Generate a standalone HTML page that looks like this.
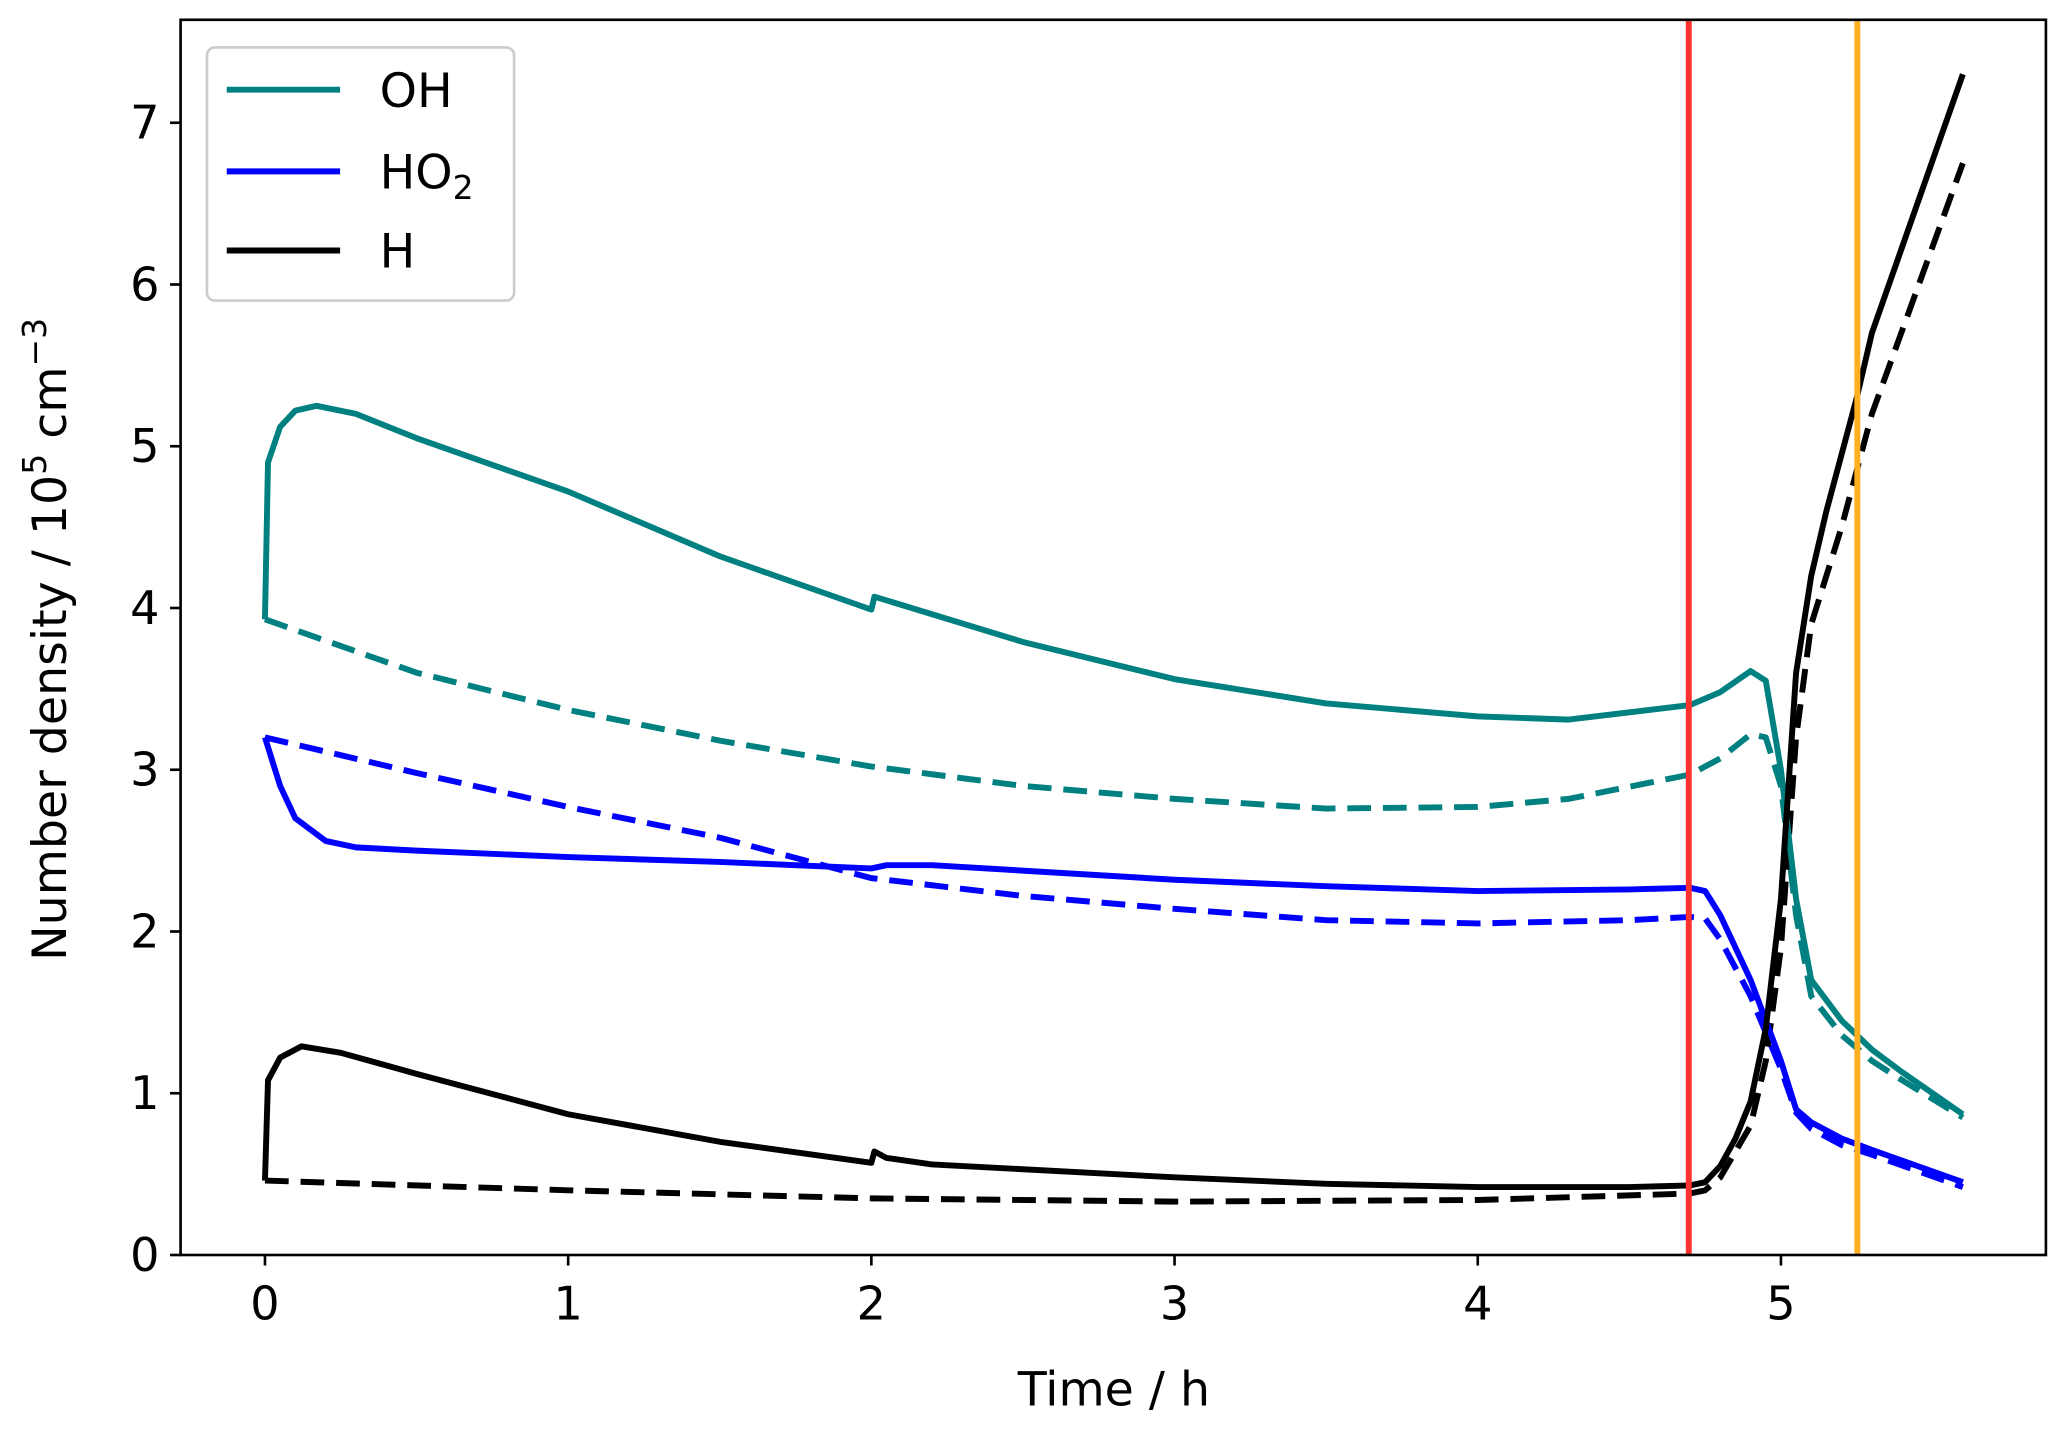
<!DOCTYPE html>
<html><head><meta charset="utf-8"><style>
html,body{margin:0;padding:0;background:#fff}
svg{display:block;font-family:"DejaVu Sans","Liberation Sans",sans-serif}
</style></head><body>
<svg id="chart" width="2067" height="1431" viewBox="0 0 1568 1085.5" xmlns="http://www.w3.org/2000/svg">
<rect x="0" y="0" width="1568" height="1086" fill="#fff"/>
<g id="plot"></g>
<g id="axes"></g>
<text x="845" y="1066" font-size="36" text-anchor="middle">Time / h</text>
<text transform="translate(50,485) rotate(-90)" font-size="36" text-anchor="middle">Number density / 10<tspan font-size="25" dy="-15">5</tspan><tspan dy="15"> cm</tspan><tspan font-size="25" dy="-15">−3</tspan></text>
<g>
<rect x="157" y="36" width="233" height="192" rx="6" fill="#fff" stroke="#ccc" stroke-width="2"/>
<line x1="172" y1="68" x2="258" y2="68" stroke="#008080" stroke-width="4.5"/>
<text x="288" y="81" font-size="36">OH</text>
<line x1="172" y1="130" x2="258" y2="130" stroke="#0000ff" stroke-width="4.5"/>
<text x="288" y="143" font-size="36">HO<tspan font-size="25" dy="8">2</tspan></text>
<line x1="172" y1="190" x2="258" y2="190" stroke="#000" stroke-width="4.5"/>
<text x="288" y="203" font-size="36">H</text>
</g>
</svg>
<script>
const xTicks=[0,1,2,3,4,5];
const yTicks=[0,1,2,3,4,5,6,7];
const redLineT=4.696;
const orangeLineT=5.252;
const ohSolidT=[0,0.01,0.05,0.1,0.17,0.3,0.5,1,1.5,2,2.01,2.5,3,3.5,4,4.3,4.7,4.8,4.9,4.95,5.0,5.05,5.1,5.2,5.3,5.4,5.6];
const ohSolidV=[3.93,4.9,5.12,5.22,5.25,5.2,5.05,4.72,4.32,3.99,4.07,3.79,3.56,3.41,3.33,3.31,3.40,3.48,3.61,3.55,3.0,2.2,1.7,1.45,1.27,1.13,0.87];
const ohDashT=[0,0.5,1,1.5,2,2.5,3,3.5,4,4.3,4.7,4.8,4.9,4.95,5.0,5.05,5.1,5.2,5.3,5.4,5.6];
const ohDashV=[3.93,3.6,3.37,3.18,3.02,2.9,2.82,2.76,2.77,2.82,2.97,3.07,3.22,3.2,2.9,2.1,1.6,1.36,1.2,1.08,0.85];
const ho2SolidT=[0,0.05,0.1,0.2,0.3,0.5,1,1.5,2,2.05,2.2,3,3.5,4,4.5,4.7,4.75,4.8,4.9,5.0,5.05,5.1,5.2,5.3,5.6];
const ho2SolidV=[3.2,2.9,2.7,2.56,2.52,2.5,2.46,2.43,2.39,2.41,2.41,2.32,2.28,2.25,2.26,2.27,2.25,2.1,1.7,1.2,0.9,0.82,0.72,0.65,0.45];
const ho2DashT=[0,0.5,1,1.5,2,2.5,3,3.5,4,4.5,4.7,4.75,4.8,4.9,5.0,5.05,5.1,5.2,5.3,5.6];
const ho2DashV=[3.2,2.98,2.77,2.58,2.33,2.22,2.14,2.07,2.05,2.07,2.09,2.08,1.95,1.6,1.15,0.88,0.78,0.68,0.62,0.42];
const hSolidT=[0,0.01,0.05,0.12,0.25,0.5,1,1.5,2,2.01,2.05,2.2,3,3.5,4,4.5,4.7,4.75,4.8,4.85,4.9,4.95,5.0,5.05,5.1,5.15,5.2,5.25,5.3,5.6];
const hSolidV=[0.46,1.08,1.22,1.29,1.25,1.12,0.87,0.7,0.57,0.64,0.6,0.56,0.48,0.44,0.42,0.42,0.43,0.45,0.55,0.72,0.95,1.4,2.2,3.6,4.2,4.6,4.95,5.3,5.7,7.3];
const hDashT=[0,1,2,3,4,4.7,4.75,4.8,4.9,4.95,5.0,5.05,5.1,5.2,5.25,5.3,5.6];
const hDashV=[0.46,0.4,0.35,0.33,0.34,0.38,0.4,0.48,0.8,1.2,1.9,3.2,3.9,4.5,4.85,5.2,6.75];

const NS='http://www.w3.org/2000/svg';
const L=137,R=1552,T=15,B=952;
const sx=t=>201+t*230;
const sy=v=>952-v*122.7;
const plot=document.getElementById('plot');
const axes=document.getElementById('axes');
function mk(tag,attrs,parent){const e=document.createElementNS(NS,tag);for(const k in attrs)e.setAttribute(k,attrs[k]);parent.appendChild(e);return e;}
function series(ts,vs,color,dash,name){
  const d=ts.map((t,i)=>(i?'L':'M')+sx(t).toFixed(2)+','+sy(vs[i]).toFixed(2)).join(' ');
  const p=mk('path',{d:d,fill:'none',stroke:color,'stroke-width':4.5,'stroke-linejoin':'round'},plot);
  if(dash)p.setAttribute('stroke-dasharray','18,9');
  
  
}
series(ohDashT,ohDashV,'#008080',true,'oh-dashed-line');
series(ho2DashT,ho2DashV,'#0000ff',true,'ho2-dashed-line');
series(hDashT,hDashV,'#000',true,'h-dashed-line');
series(ohSolidT,ohSolidV,'#008080',false,'oh-solid-line');
series(ho2SolidT,ho2SolidV,'#0000ff',false,'ho2-solid-line');
series(hSolidT,hSolidV,'#000',false,'h-solid-line');
const rl=mk('line',{x1:sx(redLineT),x2:sx(redLineT),y1:T,y2:B,stroke:'#ff3030','stroke-width':4.5},plot);


const ol=mk('line',{x1:sx(orangeLineT),x2:sx(orangeLineT),y1:T,y2:B,stroke:'#ffb020','stroke-width':4.5},plot);


const fr=mk('rect',{x:L,y:T,width:R-L,height:B-T,fill:'none',stroke:'#000','stroke-width':2},axes);


xTicks.forEach(t=>{
  mk('line',{x1:sx(t),x2:sx(t),y1:B,y2:B+8,stroke:'#000','stroke-width':2},axes);
  const tx=mk('text',{x:sx(t),y:B+49,'font-size':35,'text-anchor':'middle'},axes);
  tx.textContent=t;
  
  
});
yTicks.forEach(v=>{
  mk('line',{x1:L-8,x2:L,y1:sy(v),y2:sy(v),stroke:'#000','stroke-width':2},axes);
  const tx=mk('text',{x:L-16,y:sy(v)+12,'font-size':35,'text-anchor':'end'},axes);
  tx.textContent=v;
  
  
});
</script>
</body></html>
